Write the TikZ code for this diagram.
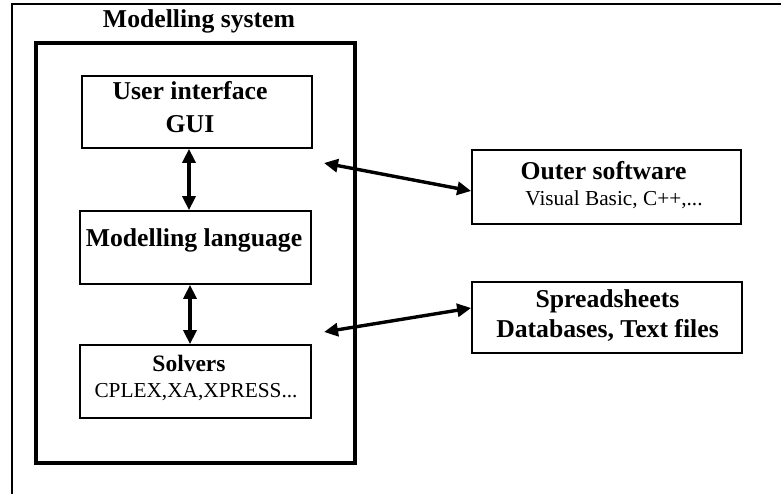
\documentclass[tikz,border=0pt]{standalone}
\usepackage{fontspec}
\setmainfont{Liberation Serif}
\usetikzlibrary{arrows.meta}
\begin{document}
\begin{tikzpicture}[x=1pt,y=-1pt,
  box/.style={draw, line width=1.7pt, inner sep=0pt},
  sysbox/.style={draw, line width=4pt, inner sep=0pt},
  head/.style={font=\fontsize{25.7}{30}\selectfont\bfseries, anchor=base, inner sep=0pt},
  subhead/.style={font=\fontsize{23.5}{28}\selectfont\bfseries, anchor=base, inner sep=0pt},
  body/.style={font=\fontsize{21.3}{26}\selectfont, anchor=base, inner sep=0pt},
  link/.style={line width=3.4pt, {Triangle[length=14pt,width=13pt]}-{Triangle[length=14pt,width=13pt]}}]
\useasboundingbox (0,0) rectangle (781,494);

% outer frame (only its top and left sides fall on the page)
\draw[line width=2.3pt] (790,4) -- (12,4) -- (12,500);

% modelling system and its parts
\node[sysbox, minimum width=319pt, minimum height=420pt] (sys) at (195.5,253) {};
\node[head] (title) at (199,28) {Modelling system};

\node[box, minimum width=230pt, minimum height=72pt] (ui) at (197,112) {};
\node[head] (uit1) at (190,100) {User interface};
\node[head] (uit2) at (190,133) {GUI};

\node[box, minimum width=231pt, minimum height=73pt] (ml) at (195.5,247.5) {};
\node[head] (mlt) at (194,247) {Modelling language};

\node[box, minimum width=231pt, minimum height=73pt] (sol) at (195.5,381.5) {};
\node[subhead] (solt1) at (189,371) {Solvers};
\node[body] (solt2) at (196,397) {CPLEX,XA,XPRESS...};

% external components
\node[box, minimum width=269pt, minimum height=74pt] (outer) at (606.5,187) {};
\node[head] (outt1) at (603.5,180) {Outer software};
\node[body] (outt2) at (614,206) {Visual Basic, C++,...};

\node[box, minimum width=270pt, minimum height=71pt] (spr) at (607,317.5) {};
\node[head] (sprt1) at (607.5,307) {Spreadsheets};
\node[head] (sprt2) at (607.5,337) {Databases, Text files};

% connectors
\coordinate (endA) at (324,163);
\coordinate (endB) at (324,332);
\draw[link] ([xshift=-8pt]ui.south) -- ([xshift=-6.5pt]ml.north);
\draw[link] ([xshift=-5.5pt]ml.south) -- ([xshift=-5.5pt]sol.north);
\draw[link] (endA) -- ([yshift=-4pt]outer.west);
\draw[link] (endB) -- ([yshift=9.5pt]spr.west);
\end{tikzpicture}
\end{document}
